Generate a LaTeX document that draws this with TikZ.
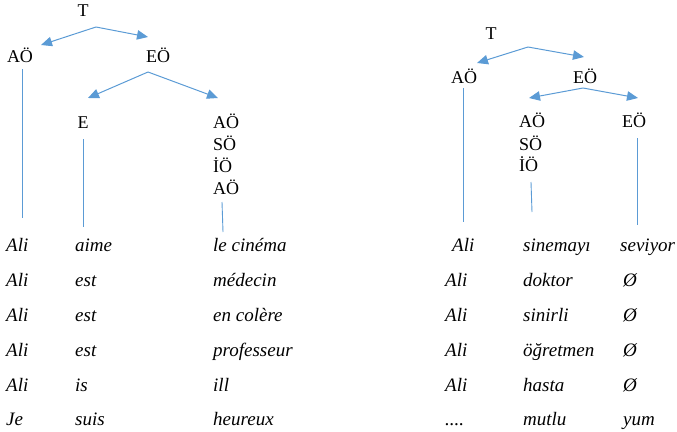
\documentclass[tikz,border=0pt]{standalone}
\usepackage{fontspec}
\setmainfont{Liberation Serif}
\usetikzlibrary{arrows.meta}
\definecolor{lineblue}{RGB}{91,155,213}
\begin{document}
\begin{tikzpicture}[x=1pt,y=-1pt,
  lab/.style={font=\fontsize{18}{18}\selectfont, inner sep=0pt, anchor=base},
  stk/.style={lab, anchor=base west},
  word/.style={font=\fontsize{19}{20}\selectfont\itshape, inner sep=0pt, anchor=base west},
  arr/.style={draw=lineblue, line width=1pt, -{Triangle[length=11pt,width=9.5pt]}},
  stem/.style={draw=lineblue, line width=0.9pt}]
\useasboundingbox (0,0) rectangle (677,431);

% ---- French tree ----
\node[lab] (T1) at (83,16.7) {T};
\node[lab] (A1) at (20,62.7) {AÖ};
\node[lab] (E1) at (158,62.7) {EÖ};
\node[lab] (V1) at (83,128) {E};
\node[stk] (S1a) at (213,128) {AÖ};
\node[stk] (S1b) at (213,150.5) {SÖ};
\node[stk] (S1c) at (213,172) {İÖ};
\node[stk] (S1d) at (213,194) {AÖ};

\coordinate (t1) at (96,27);
\coordinate (t1l) at (41,45);
\coordinate (t1r) at (148,37);
\coordinate (e1) at (148,72);
\coordinate (e1l) at (88,98);
\coordinate (e1r) at (218,98);
\draw[arr] (t1) -- (t1l);
\draw[arr] (t1) -- (t1r);
\draw[arr] (e1) -- (e1l);
\draw[arr] (e1) -- (e1r);

\coordinate (a1top) at (22,69);   \coordinate (a1bot) at (22,218);
\coordinate (v1top) at (83,139);  \coordinate (v1bot) at (83,227);
\coordinate (s1top) at (222,202); \coordinate (s1bot) at (223,232);
\draw[stem] (a1top) -- (a1bot);
\draw[stem] (v1top) -- (v1bot);
\draw[stem] (s1top) -- (s1bot);

% ---- Turkish tree ----
\node[lab] (T2) at (491,39.3) {T};
\node[lab] (A2) at (464,83.3) {AÖ};
\node[lab] (E2) at (585,83.3) {EÖ};
\node[stk] (S2a) at (519,127.3) {AÖ};
\node[stk] (S2b) at (519,150) {SÖ};
\node[stk] (S2c) at (519,171.7) {İÖ};
\node[lab] (R2) at (634,127.3) {EÖ};

\coordinate (t2) at (528,47);
\coordinate (t2l) at (477,63);
\coordinate (t2r) at (584,57);
\coordinate (e2) at (583,88);
\coordinate (e2l) at (529,98);
\coordinate (e2r) at (638,98);
\draw[arr] (t2) -- (t2l);
\draw[arr] (t2) -- (t2r);
\draw[arr] (e2) -- (e2l);
\draw[arr] (e2) -- (e2r);

\coordinate (a2top) at (463,88);  \coordinate (a2bot) at (463,222);
\coordinate (s2top) at (531,182); \coordinate (s2bot) at (532,212);
\coordinate (r2top) at (637,138); \coordinate (r2bot) at (637,225);
\draw[stem] (a2top) -- (a2bot);
\draw[stem] (s2top) -- (s2bot);
\draw[stem] (r2top) -- (r2bot);

% ---- French sentences ----
\node[word] (f1a) at (6,251) {Ali};  \node[word] (f1b) at (75,251) {aime}; \node[word] (f1c) at (213,251) {le cinéma};
\node[word] (f2a) at (6,286) {Ali};  \node[word] (f2b) at (75,286) {est};  \node[word] (f2c) at (213,286) {médecin};
\node[word] (f3a) at (6,321) {Ali};  \node[word] (f3b) at (75,321) {est};  \node[word] (f3c) at (213,321) {en colère};
\node[word] (f4a) at (6,356) {Ali};  \node[word] (f4b) at (75,356) {est};  \node[word] (f4c) at (213,356) {professeur};
\node[word] (f5a) at (6,391) {Ali};  \node[word] (f5b) at (75,391) {is};   \node[word] (f5c) at (213,391) {ill};
\node[word] (f6a) at (6,425) {Je};   \node[word] (f6b) at (75,425) {suis}; \node[word] (f6c) at (213,425) {heureux};

% ---- Turkish sentences ----
\node[word] (k1a) at (452,251) {Ali};  \node[word] (k1b) at (523,251) {sinemayı};  \node[word] (k1c) at (620,251) {seviyor};
\node[word] (k2a) at (445,286) {Ali};  \node[word] (k2b) at (523,286) {doktor};    \node[word] (k2c) at (623,286) {Ø};
\node[word] (k3a) at (445,321) {Ali};  \node[word] (k3b) at (523,321) {sinirli};   \node[word] (k3c) at (623,321) {Ø};
\node[word] (k4a) at (445,356) {Ali};  \node[word] (k4b) at (523,356) {öğretmen};  \node[word] (k4c) at (623,356) {Ø};
\node[word] (k5a) at (445,391) {Ali};  \node[word] (k5b) at (523,391) {hasta};     \node[word] (k5c) at (623,391) {Ø};
\node[word] (k6a) at (445,425) {....}; \node[word] (k6b) at (523,425) {mutlu};     \node[word] (k6c) at (623,425) {yum};
\end{tikzpicture}
\end{document}
